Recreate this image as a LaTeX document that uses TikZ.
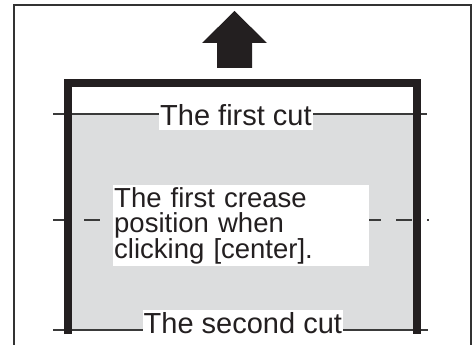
\documentclass[tikz,border=0pt]{standalone}
\usepackage{fontspec}
\setmainfont{Liberation Sans}
\definecolor{ink}{HTML}{231F20}
\definecolor{paper}{HTML}{DCDDDE}
\definecolor{frame}{HTML}{333333}
\definecolor{thin}{HTML}{3A3A3A}
\begin{document}
\begin{tikzpicture}[x=1pt,y=-1pt,
  thinline/.style={draw=thin,line width=1.2pt},
  label/.style={fill=white,text=ink,inner xsep=1pt,inner ysep=0pt,font=\fontsize{29}{29}\selectfont,anchor=base west,text height=23pt,text depth=4pt}]
\useasboundingbox (0,0) rectangle (472,345);
% outer frame
\draw[draw=frame,line width=2pt] (14.2,345) -- (14.2,4.8) -- (470.5,4.8) -- (470.5,345);
% arrow
\fill[ink] (234.5,11) -- (267,43) -- (252,43) -- (252,68) -- (217,68) -- (217,43) -- (202,43) -- cycle;
% paper
\fill[paper] (72,114) rectangle (417,330);
% cut lines
\coordinate (c1l) at (53,114); \coordinate (c1r) at (427,114);
\coordinate (c2l) at (53,330); \coordinate (c2r) at (428,330);
\draw[thinline] (c1l) -- (c1r);
\draw[thinline] (c2l) -- (c2r);
% crease dashes
\draw[thinline] (53,220) -- (64,220);
\draw[thinline] (84,220) -- (100,220);
\draw[thinline] (366,220) -- (381,220);
\draw[thinline] (396,220) -- (412,220);
\draw[thinline] (427,220) -- (429,220);
% thick frame
\draw[ink,line width=8pt,miter limit=10] (68,334) -- (68,83) -- (417,83) -- (417,334);
% labels
\node[label] (first) at (159,126) {The first cut};
\node[label,text depth=14pt] (second) at (142.5,333) {The second cut};
\node[fill=white,text=ink,anchor=north west,inner xsep=1pt,inner ysep=2pt,text width=254pt,align=left,font=\fontsize{27.5}{25}\selectfont] (crease) at (113,185) {The first crease\\position when\\clicking [center].};
\end{tikzpicture}
\end{document}
